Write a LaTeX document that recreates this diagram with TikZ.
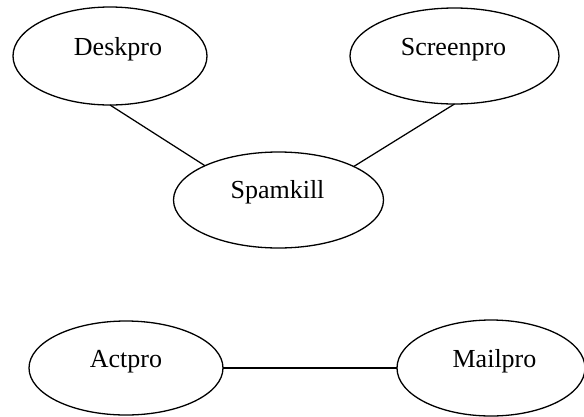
\documentclass[tikz,border=0pt]{standalone}
\usepackage{fontspec}
\setmainfont{Liberation Serif}
\usetikzlibrary{shapes.geometric}
\begin{document}
\begin{tikzpicture}[x=1pt,y=-1pt,
  bubble/.style={draw, ellipse, line width=1.3pt, inner sep=0pt, outer sep=0pt},
  name label/.style={anchor=base, inner sep=0pt, font=\fontsize{26}{30}\selectfont},
  link/.style={draw, line width=1.25pt}]
  \useasboundingbox (0,0) rectangle (584,416);

  % ellipses
  \node[bubble, minimum width=194pt, minimum height=98pt] (desk) at (110,56) {};
  \node[bubble, minimum width=209pt, minimum height=96pt] (screen) at (454.5,56) {};
  \node[bubble, minimum width=210pt, minimum height=96pt] (spam) at (278.5,200) {};
  \node[bubble, minimum width=194pt, minimum height=94pt] (act) at (126,368) {};
  \node[bubble, minimum width=188pt, minimum height=96pt] (mail) at (491,368) {};

  % labels
  \node[name label] (deskT) at (118,55) {Deskpro};
  \node[name label] (screenT) at (453.5,55) {Screenpro};
  \node[name label] (spamT) at (277.5,198) {Spamkill};
  \node[name label] (actT) at (126,367) {Actpro};
  \node[name label] (mailT) at (494.5,367) {Mailpro};

  % connectors
  \draw[link] (desk.south) -- (spam.155.8);
  \draw[link] (screen.south) -- (spam.24.2);
  \draw[link] (act.east) -- (mail.west);
\end{tikzpicture}
\end{document}
